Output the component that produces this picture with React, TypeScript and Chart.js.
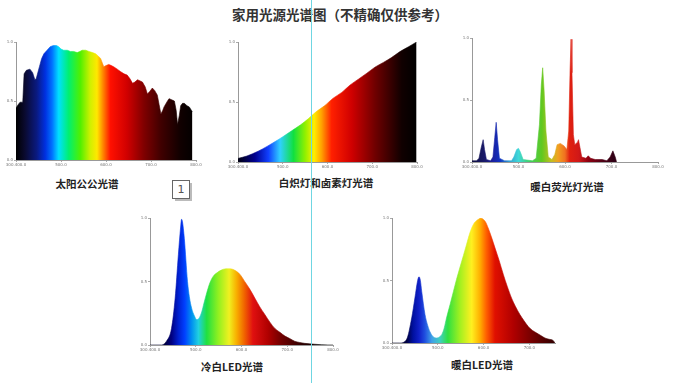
import React, { useEffect, useRef } from "react";
import { Chart, registerables } from "chart.js";
Chart.register(...registerables);

// ---------- DATA ----------
const mainTitle = "家用光源光谱图（不精确仅供参考）";
const chartTitles = ["太阳公公光谱", "白炽灯和卤素灯光谱", "暖白荧光灯光谱", "冷白LED光谱", "暖白LED光谱"];

const yTicks = [0, 0.5, 1.0];
const xTicksFull = [400, 500, 600, 700, 800];
const xTicksShort = [400, 500, 600, 700];
const xTickLabelsFull = ["300.400.0", "500.0", "600.0", "700.0", "800.0"];
const xTickLabelsShort = ["300.400.0", "500.0", "600.0", "700.0"];

const sunX = [400, 405, 409, 415, 418, 423, 431, 437, 442, 445, 452, 457, 462, 469, 476, 483, 490, 495, 500, 506, 514, 521, 528, 536, 542, 547, 555, 562, 570, 577, 583, 588, 592, 595, 600, 606, 612, 617, 625, 632, 640, 647, 653, 659, 664, 670, 676, 681, 687, 692, 697, 703, 708, 714, 718, 722, 726, 729, 735, 740, 746, 752, 756, 759, 763, 766, 770, 774, 780, 785, 790, 792];
const sunY = [0.44, 0.47, 0.49, 0.49, 0.73, 0.76, 0.77, 0.74, 0.68, 0.69, 0.79, 0.86, 0.9, 0.93, 0.96, 0.97, 0.97, 0.96, 0.94, 0.93, 0.93, 0.92, 0.92, 0.91, 0.92, 0.93, 0.93, 0.92, 0.91, 0.9, 0.88, 0.86, 0.82, 0.79, 0.8, 0.81, 0.8, 0.79, 0.77, 0.75, 0.73, 0.72, 0.69, 0.65, 0.66, 0.68, 0.67, 0.66, 0.62, 0.56, 0.58, 0.61, 0.59, 0.55, 0.47, 0.39, 0.42, 0.45, 0.49, 0.52, 0.51, 0.5, 0.42, 0.3, 0.38, 0.46, 0.48, 0.48, 0.46, 0.45, 0.42, 0.41];

const incX = [400, 420, 445, 465, 483, 500, 520, 540, 557, 575, 594, 612, 632, 650, 669, 688, 706, 725, 743, 762, 781, 799];
const incY = [0.03, 0.05, 0.09, 0.13, 0.17, 0.21, 0.26, 0.31, 0.36, 0.42, 0.47, 0.53, 0.58, 0.64, 0.69, 0.74, 0.79, 0.83, 0.87, 0.92, 0.96, 1.0];

const fluX = [400, 410, 415, 420, 424, 427, 431, 440, 445, 449, 452, 455, 459, 470, 485, 490, 496, 500, 504, 510, 530, 538, 545, 549, 552, 555, 559, 564, 572, 578, 583, 590, 598, 604, 608, 611, 613, 615, 618, 621, 627, 629, 632, 636, 645, 650, 655, 665, 680, 690, 697, 703, 708, 711];
const fluY = [0.01, 0.01, 0.03, 0.12, 0.18, 0.1, 0.02, 0.01, 0.04, 0.2, 0.32, 0.18, 0.03, 0.01, 0.01, 0.04, 0.1, 0.11, 0.08, 0.02, 0.01, 0.03, 0.3, 0.62, 0.76, 0.58, 0.25, 0.04, 0.02, 0.06, 0.14, 0.15, 0.13, 0.1, 0.25, 0.75, 0.99, 0.72, 0.22, 0.14, 0.16, 0.18, 0.12, 0.04, 0.03, 0.05, 0.03, 0.02, 0.02, 0.01, 0.04, 0.09, 0.04, 0.0];

const coolX = [400, 425, 436, 447, 455, 462, 467, 469, 471, 475, 482, 486, 491, 497, 502, 507, 513, 518, 524, 531, 538, 547, 556, 566, 575, 589, 598, 607, 618, 629, 640, 651, 662, 673, 684, 695, 706, 716, 727, 738, 760, 789, 800];
const coolY = [0, 0, 0.03, 0.13, 0.37, 0.71, 0.93, 0.99, 0.97, 0.84, 0.5, 0.38, 0.29, 0.23, 0.2, 0.21, 0.26, 0.33, 0.41, 0.49, 0.54, 0.57, 0.59, 0.6, 0.6, 0.58, 0.55, 0.5, 0.44, 0.37, 0.3, 0.24, 0.18, 0.13, 0.1, 0.07, 0.05, 0.03, 0.02, 0.013, 0.006, 0, 0];

const warmX = [400, 417, 432, 443, 450, 456, 459, 462, 465, 472, 478, 483, 490, 498, 504, 509, 514, 519, 527, 534, 541, 548, 556, 563, 570, 578, 585, 589, 594, 599, 604, 610, 617, 625, 634, 643, 652, 661, 670, 679, 688, 698, 707, 716, 725, 734, 743, 752, 756];
const warmY = [0, 0, 0.03, 0.2, 0.36, 0.5, 0.53, 0.5, 0.41, 0.23, 0.14, 0.09, 0.05, 0.04, 0.05, 0.07, 0.12, 0.2, 0.31, 0.41, 0.51, 0.6, 0.7, 0.79, 0.88, 0.95, 0.98, 0.99, 1.0, 0.99, 0.97, 0.92, 0.85, 0.76, 0.66, 0.55, 0.45, 0.36, 0.29, 0.23, 0.18, 0.13, 0.1, 0.08, 0.06, 0.04, 0.03, 0.02, 0.0];

// ---------- STYLE ----------
type Stop = [number, string];
const sunStops: Stop[] = [[400, "#000000"], [420, "#0a0a30"], [446, "#0a1a80"], [465, "#0030e0"], [480, "#0070ff"], [495, "#00e0ff"], [517, "#00f070"], [543, "#50f000"], [565, "#d0f000"], [580, "#ffe800"], [592, "#ff9000"], [610, "#ff1000"], [647, "#d00000"], [684, "#800000"], [722, "#400000"], [766, "#100000"], [800, "#000000"]];
const incStops: Stop[] = [[400, "#000010"], [438, "#000090"], [468, "#1040ff"], [494, "#30d0ff"], [524, "#10e040"], [550, "#90f000"], [570, "#ffee00"], [587, "#ffa000"], [609, "#ff2000"], [654, "#d00000"], [706, "#700000"], [766, "#100000"], [800, "#000000"]];
const fluStops: Stop[] = [[400, "#101040"], [430, "#1a1a70"], [445, "#1a20a0"], [460, "#1030c0"], [480, "#30a0d0"], [500, "#40d8d8"], [525, "#40d060"], [550, "#60c820"], [570, "#c0c020"], [585, "#f0a020"], [600, "#f07020"], [610, "#e02010"], [630, "#d01818"], [650, "#900010"], [680, "#500015"], [705, "#300015"], [800, "#200010"]];
const coolStops: Stop[] = [[400, "#000020"], [433, "#000040"], [447, "#000080"], [462, "#0020d0"], [476, "#0040ff"], [491, "#0090f0"], [506, "#20d0e0"], [524, "#20e040"], [549, "#90f020"], [573, "#f0f020"], [589, "#f8b000"], [607, "#f06000"], [625, "#e01010"], [658, "#b00000"], [687, "#700000"], [731, "#300000"], [775, "#000000"], [800, "#000000"]];
const warmStops: Stop[] = [[400, "#000020"], [432, "#000040"], [446, "#0010a0"], [459, "#1020c8"], [472, "#2050e0"], [487, "#40a0e8"], [505, "#40d0c0"], [522, "#30e040"], [548, "#a0f020"], [574, "#fff020"], [592, "#ffb000"], [606, "#ff6000"], [625, "#e01000"], [665, "#b00000"], [709, "#700000"], [756, "#300000"]];

const YW = 18, PT = 4, PR = 8, XH = 12;

function makeGradient(chart: any, stops: Stop[]) {
  const { ctx, chartArea, scales } = chart;
  if (!chartArea || !scales.x) return "rgba(0,0,0,0)";
  const span = chartArea.right - chartArea.left;
  const g = ctx.createLinearGradient(chartArea.left, 0, chartArea.right, 0);
  stops.forEach(([v, c]) => {
    const px = scales.x.getPixelForValue(v);
    g.addColorStop(Math.min(1, Math.max(0, (px - chartArea.left) / span)), c);
  });
  return g;
}

type SpecProps = {
  xs: number[]; ys: number[]; stops: Stop[];
  rect: [number, number, number, number];
  xMax: number; xTicks: number[]; xLabels: string[]; smooth: boolean;
};

function Spectrum({ xs, ys, stops, rect, xMax, xTicks, xLabels, smooth }: SpecProps) {
  const ref = useRef<HTMLCanvasElement>(null);
  const [L, T, R, B] = rect;
  const w = R - L + YW + PR;
  const h = B - T + PT + XH;
  useEffect(() => {
    if (!ref.current) return;
    const tickFont = { size: 4, family: "DejaVu Sans" };
    const chart = new Chart(ref.current, {
      type: "line",
      data: {
        datasets: [{
          data: xs.map((x, i) => ({ x, y: ys[i] })),
          fill: "origin",
          backgroundColor: (c: any) => makeGradient(c.chart, stops),
          borderColor: (c: any) => makeGradient(c.chart, stops),
          borderWidth: 0.6,
          pointRadius: 0,
          tension: smooth ? 0.4 : 0,
          cubicInterpolationMode: smooth ? "monotone" : "default",
        } as any],
      },
      options: {
        responsive: false,
        animation: false,
        devicePixelRatio: 1,
        events: [],
        layout: { padding: { left: 0, top: PT, right: PR, bottom: 0 } },
        plugins: { legend: { display: false }, tooltip: { enabled: false } },
        scales: {
          x: {
            type: "linear", min: 400, max: xMax,
            afterFit: (s: any) => { s.height = XH; s.paddingLeft = 0; s.paddingRight = 0; },
            afterBuildTicks: (s: any) => { s.ticks = xTicks.map((v) => ({ value: v })); },
            ticks: { font: tickFont, color: "#777", maxRotation: 0, autoSkip: false, padding: 1,
              callback: (_v: any, i: number) => xLabels[i] },
            grid: { display: true, drawOnChartArea: false, drawTicks: true, tickLength: 2, color: "#aaa" },
            border: { display: true, color: "#999", width: 1 },
          },
          y: {
            type: "linear", min: 0, max: 1,
            afterFit: (s: any) => { s.width = YW; s.paddingTop = 0; s.paddingBottom = 0; },
            afterBuildTicks: (s: any) => { s.ticks = yTicks.map((v) => ({ value: v })); },
            ticks: { font: tickFont, color: "#777", padding: 1, callback: (v: any) => Number(v).toFixed(1) },
            grid: { display: true, drawOnChartArea: false, drawTicks: true, tickLength: 2, color: "#aaa" },
            border: { display: true, color: "#999", width: 1 },
          },
        },
      } as any,
    });
    return () => chart.destroy();
  }, []);
  return (
    <canvas ref={ref} width={w} height={h}
      style={{ position: "absolute", left: L - YW, top: T - PT, width: w, height: h, display: "block" }} />
  );
}

const label = (text: string, x: number, y: number, size: number, color = "#222") => (
  <div style={{ position: "absolute", left: x, top: y, transform: "translate(-50%,-50%)", whiteSpace: "nowrap",
    fontSize: size, fontWeight: 700, color, fontFamily: "'Noto Sans CJK SC', 'Noto Sans', sans-serif", lineHeight: 1 }}>
    {text}
  </div>
);

export default function App() {
  return (
    <div style={{ position: "fixed", left: 0, top: 0, width: 676, height: 383, background: "#fff", overflow: "hidden" }}>
      {label(mainTitle, 340, 15, 13.5, "#333")}
      <Spectrum xs={sunX} ys={sunY} stops={sunStops} rect={[16, 42, 196, 160]} xMax={800} xTicks={xTicksFull} xLabels={xTickLabelsFull} smooth={false} />
      <Spectrum xs={incX} ys={incY} stops={incStops} rect={[238, 42, 417, 162]} xMax={800} xTicks={xTicksFull} xLabels={xTickLabelsFull} smooth={true} />
      <Spectrum xs={fluX} ys={fluY} stops={fluStops} rect={[472, 38, 658, 162]} xMax={800} xTicks={xTicksFull} xLabels={xTickLabelsFull} smooth={false} />
      <Spectrum xs={coolX} ys={coolY} stops={coolStops} rect={[150, 218, 333, 345]} xMax={800} xTicks={xTicksFull} xLabels={xTickLabelsFull} smooth={true} />
      <Spectrum xs={warmX} ys={warmY} stops={warmStops} rect={[392, 218, 555, 343]} xMax={756} xTicks={xTicksShort} xLabels={xTickLabelsShort} smooth={true} />
      {label(chartTitles[0], 87, 184, 10.5)}
      {label(chartTitles[1], 326, 183, 10.5)}
      {label(chartTitles[2], 567, 187, 10.5)}
      {label(chartTitles[3], 232, 367, 10.5)}
      {label(chartTitles[4], 482, 365, 10.5)}
      <div style={{ position: "absolute", left: 175, top: 183, width: 17, height: 18, background: "#bbb" }} />
      <div style={{ position: "absolute", left: 172, top: 180, width: 16, height: 17, background: "#fff", border: "1px solid #666",
        fontSize: 11, color: "#555", fontFamily: "'DejaVu Sans', sans-serif", textAlign: "center", lineHeight: "17px" }}>1</div>
      <div style={{ position: "absolute", left: 311, top: 0, width: 1, height: 383, background: "#6fd6e2" }} />
    </div>
  );
}
